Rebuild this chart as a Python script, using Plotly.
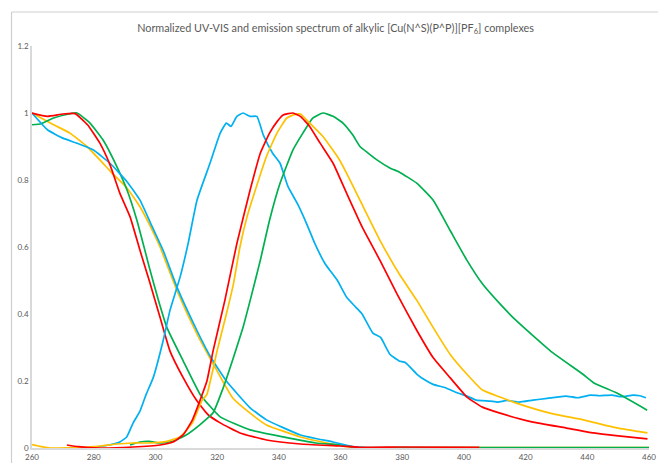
import plotly.graph_objects as go

# ---------------- data ----------------
# UV-VIS absorption curves
red_abs_x = [260, 265, 270, 274, 278, 282, 285.3, 288.5, 291.8, 295, 298, 301.5, 304.7, 309, 313.5, 317, 321, 327.4, 336, 347, 360, 366, 380, 405]
red_abs_y = [1.0, 0.99, 0.997, 0.998, 0.965, 0.91, 0.845, 0.76, 0.69, 0.59, 0.50, 0.39, 0.29, 0.21, 0.14, 0.10, 0.075, 0.045, 0.024, 0.012, 0.006, 0.002, 0.003, 0.002]

green_abs_x = [260, 263, 267, 272, 274.6, 278.8, 283, 287.5, 290.8, 294, 296.6, 298, 301, 303.7, 309, 314.5, 321, 330.7, 341.4, 352, 360, 365, 400, 460]
green_abs_y = [0.965, 0.968, 0.985, 0.997, 1.0, 0.97, 0.92, 0.84, 0.77, 0.68, 0.59, 0.54, 0.44, 0.36, 0.26, 0.16, 0.093, 0.054, 0.033, 0.015, 0.009, 0.002, 0.001, 0.001]

yellow_abs_x = [260, 267, 272.3, 277.8, 282, 286, 290.8, 295, 299, 301.5, 307, 313.5, 320, 325, 330.7, 336, 347, 355.6, 362, 366, 400, 460]
yellow_abs_y = [1.0, 0.965, 0.94, 0.90, 0.86, 0.82, 0.776, 0.72, 0.65, 0.60, 0.47, 0.34, 0.23, 0.15, 0.104, 0.069, 0.033, 0.015, 0.004, 0.001, 0.001, 0.001]

blue_abs_x = [260, 265, 270, 274.5, 279.8, 285.3, 290.8, 295, 299, 302.5, 307, 313.5, 318, 323, 330.7, 336, 347, 357.6, 364, 368]
blue_abs_y = [1.0, 0.95, 0.925, 0.91, 0.89, 0.85, 0.795, 0.74, 0.66, 0.59, 0.48, 0.35, 0.27, 0.20, 0.12, 0.084, 0.039, 0.018, 0.004, 0.001]

# Emission curves
blue_em_x = [281, 285, 288.5, 290.7, 292.8, 295, 297, 299.3, 302.5, 304.7, 308, 310.6, 313.5, 317.7, 321, 323, 324.5, 326.4, 328.4, 330.7, 332.9, 335, 338, 340.4, 343, 346, 349, 351.7, 355, 359, 362, 365, 367, 370.5, 373, 376, 379, 381, 384.8, 387, 390, 394, 397.8, 401, 404, 408.5, 411, 414, 418, 422.4, 427, 433, 437, 441, 444, 448, 451, 454.8, 457, 459]
blue_em_y = [0.003, 0.009, 0.018, 0.033, 0.075, 0.11, 0.16, 0.21, 0.32, 0.41, 0.51, 0.61, 0.74, 0.85, 0.94, 0.97, 0.96, 0.99, 1.0, 0.99, 0.99, 0.934, 0.88, 0.85, 0.78, 0.73, 0.67, 0.61, 0.55, 0.50, 0.45, 0.42, 0.40, 0.343, 0.33, 0.28, 0.26, 0.255, 0.22, 0.205, 0.19, 0.18, 0.165, 0.155, 0.143, 0.14, 0.137, 0.142, 0.137, 0.143, 0.148, 0.155, 0.15, 0.158, 0.156, 0.158, 0.153, 0.158, 0.156, 0.15]

red_em_x = [271.3, 275, 282, 292.7, 301.5, 305.7, 309, 312, 314.5, 316.7, 318.7, 322.5, 326.4, 330.7, 334, 337, 339.5, 341.4, 343, 344.6, 347, 350, 353.4, 357.6, 362, 367, 372.8, 378.3, 384.8, 390, 395.5, 401, 406, 411.7, 422, 433, 442, 450, 459.5]
red_em_y = [0.009, 0.004, 0.0, 0.003, 0.009, 0.018, 0.039, 0.084, 0.143, 0.2, 0.29, 0.44, 0.61, 0.77, 0.88, 0.94, 0.975, 0.994, 0.998, 1.0, 0.99, 0.96, 0.91, 0.85, 0.76, 0.66, 0.56, 0.46, 0.35, 0.27, 0.21, 0.152, 0.122, 0.104, 0.078, 0.06, 0.045, 0.036, 0.027]

yellow_em_x = [260, 263, 266, 276.5, 282, 287.5, 292.7, 298, 303.7, 308, 312, 315, 316.7, 320, 323, 325.3, 327.4, 329.7, 331.7, 336, 339.4, 342.6, 345, 347, 350, 354.3, 359, 362, 366.3, 372.8, 379, 384.8, 390, 395.5, 401, 406, 411.7, 417, 427.9, 438.6, 449.6, 459.5]
yellow_em_y = [0.01, 0.004, 0.0, 0.002, 0.006, 0.012, 0.015, 0.015, 0.02, 0.033, 0.075, 0.14, 0.16, 0.29, 0.40, 0.49, 0.60, 0.69, 0.75, 0.87, 0.94, 0.985, 0.995, 0.997, 0.97, 0.93, 0.87, 0.82, 0.74, 0.62, 0.52, 0.44, 0.36, 0.28, 0.22, 0.173, 0.152, 0.134, 0.104, 0.084, 0.06, 0.045]

green_em_x = [291.8, 295, 298, 301.5, 305.7, 310, 314.5, 318.7, 322, 325.3, 328.4, 330.7, 334, 337, 340.4, 344.6, 347.8, 351, 354.3, 357.6, 360.8, 364, 366.3, 369, 371.8, 376, 379, 384.8, 390, 395.5, 401, 406, 411.7, 417, 428, 438.6, 442, 449.6, 459.4]
green_em_y = [0.009, 0.018, 0.02, 0.015, 0.02, 0.039, 0.07, 0.105, 0.18, 0.27, 0.36, 0.44, 0.56, 0.68, 0.79, 0.89, 0.94, 0.985, 1.0, 0.99, 0.97, 0.934, 0.90, 0.88, 0.86, 0.836, 0.824, 0.79, 0.74, 0.65, 0.56, 0.49, 0.43, 0.38, 0.29, 0.22, 0.195, 0.164, 0.113]

x_ticks = [260, 280, 300, 320, 340, 360, 380, 400, 420, 440, 460]
y_ticks = [0, 0.2, 0.4, 0.6, 0.8, 1, 1.2]
y_tick_labels = ["0", "0.2", "0.4", "0.6", "0.8", "1", "1.2"]

RED, YELLOW, GREEN, BLUE = "#FF0000", "#FFC000", "#00B050", "#00B0F0"

fig = go.Figure()
series = [
    (yellow_abs_x, yellow_abs_y, YELLOW),
    (green_abs_x, green_abs_y, GREEN),
    (blue_abs_x, blue_abs_y, BLUE),
    (red_abs_x, red_abs_y, RED),
    (blue_em_x, blue_em_y, BLUE),
    (green_em_x, green_em_y, GREEN),
    (yellow_em_x, yellow_em_y, YELLOW),
    (red_em_x, red_em_y, RED),
]
for xs, ys, c in series:
    fig.add_trace(go.Scatter(x=xs, y=ys, mode="lines",
                             line=dict(color=c, width=1.7, shape="spline", smoothing=0.4),
                             showlegend=False, hoverinfo="skip"))

# outer chart frame (partly cropped in the reference): left and top edges
FRAME_X = -0.0332   # paper coords of the outer chart border
FRAME_Y = 1.0846
fig.add_shape(type="line", xref="paper", yref="paper",
              x0=FRAME_X, y0=FRAME_Y, x1=FRAME_X, y1=-0.1,
              line=dict(color="#CFCFCF", width=1.2), layer="above")
fig.add_shape(type="line", xref="paper", yref="paper",
              x0=FRAME_X, y0=FRAME_Y, x1=1.1, y1=FRAME_Y,
              line=dict(color="#CFCFCF", width=1.2), layer="above")

fig.update_layout(
    width=658, height=463, autosize=False,
    margin=dict(l=32, r=9, t=46, b=15),
    paper_bgcolor="white", plot_bgcolor="white",
    font=dict(family="Lato, Open Sans, sans-serif", color="#595959"),
    title=dict(text="Normalized UV-VIS and emission spectrum of alkylic [Cu(N^S)(P^P)][PF<sub>6</sub>] complexes",
               x=0.51, xanchor="center", y=1 - 28 / 463, yanchor="middle",
               font=dict(size=10.8, color="#595959")),
    xaxis=dict(range=[260, 460], tickvals=x_ticks, showgrid=False, zeroline=False,
               showline=True, linecolor="#D9D9D9", linewidth=2, ticks="",
               ticklabeloverflow="allow", automargin=False,
               tickfont=dict(size=8, color="#595959")),
    yaxis=dict(range=[0, 1.2], tickvals=y_ticks, ticktext=y_tick_labels,
               showgrid=False, zeroline=False, showline=True, linecolor="#D9D9D9",
               linewidth=1.5, ticks="", ticklabeloverflow="allow", automargin=False,
               tickfont=dict(size=8, color="#595959")),
)

fig.write_html("out.html",
               config={"displayModeBar": False, "responsive": False},
               post_script="document.body.style.margin='0';document.body.style.overflow='hidden';")
